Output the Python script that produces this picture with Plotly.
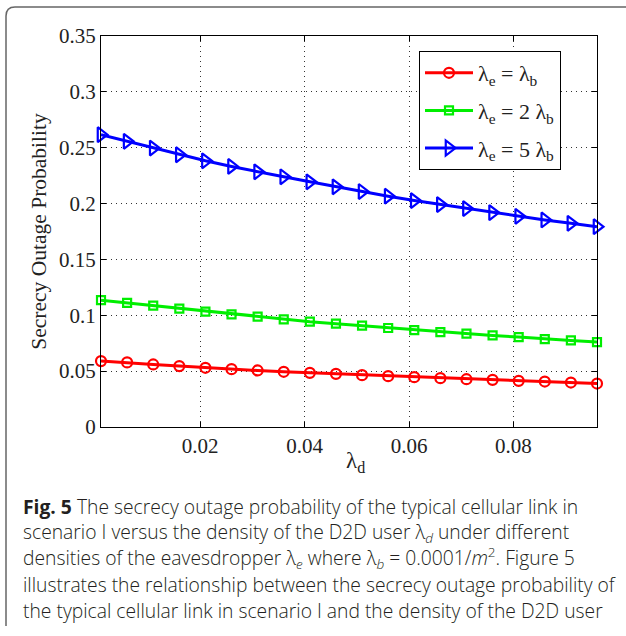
import plotly.graph_objects as go

# ---- data ----
lambda_d = [0.001, 0.006, 0.011, 0.016, 0.021, 0.026, 0.031, 0.036, 0.041, 0.046,
            0.051, 0.056, 0.061, 0.066, 0.071, 0.076, 0.081, 0.086, 0.091, 0.096]
sop_e1 = [0.0590, 0.0578, 0.0560, 0.0545, 0.0530, 0.0518, 0.0506, 0.0494, 0.0485, 0.0476,
          0.0464, 0.0455, 0.0446, 0.0437, 0.0428, 0.0422, 0.0413, 0.0407, 0.0398, 0.0389]
sop_e2 = [0.1135, 0.1111, 0.1087, 0.1060, 0.1033, 0.1009, 0.0988, 0.0964, 0.0943, 0.0925,
          0.0907, 0.0886, 0.0868, 0.0850, 0.0835, 0.0820, 0.0805, 0.0787, 0.0775, 0.0760]
sop_e5 = [0.2617, 0.2557, 0.2497, 0.2437, 0.2383, 0.2332, 0.2284, 0.2240, 0.2195, 0.2150,
          0.2108, 0.2066, 0.2027, 0.1991, 0.1955, 0.1919, 0.1886, 0.1853, 0.1823, 0.1793]
series_names = ["λ<sub>e</sub> = λ<sub>b</sub>", "λ<sub>e</sub> = 2 λ<sub>b</sub>",
                "λ<sub>e</sub> = 5 λ<sub>b</sub>"]
x_tickvals = [0.02, 0.04, 0.06, 0.08]
x_ticktext = ["0.02", "0.04", "0.06", "0.08"]
y_tickvals = [0, 0.05, 0.1, 0.15, 0.2, 0.25, 0.3, 0.35]
y_ticktext = ["0", "0.05", "0.1", "0.15", "0.2", "0.25", "0.3", "0.35"]
x_title = "λ<sub>d</sub>"
y_title = "Secrecy Outage Probability"
caption_lines = [
    "<b>Fig. 5</b> The secrecy outage probability of the typical cellular link in",
    "scenario I versus the density of the D2D user λ<sub><i>d</i></sub> under different",
    "densities of the eavesdropper λ<sub><i>e</i></sub> where λ<sub><i>b</i></sub> = 0.0001/<i>m</i><sup>2</sup>. Figure 5",
    "illustrates the relationship between the secrecy outage probability of",
    "the typical cellular link in scenario I and the density of the D2D user",
]

W, H = 626, 636
L, R, T, B = 101, 597, 36, 427  # plot area in pixels


def px(x):
    return (x - L) / (R - L)


def py(y):
    return (B - y) / (B - T)


serif = "Liberation Serif, Times New Roman, serif"
fig = go.Figure()
styles = [
    dict(color="#ff0000", symbol="circle-open", size=10),
    dict(color="#00ee00", symbol="square-open", size=8),
    dict(color="#0000ff", symbol="triangle-right-open", size=13),
]
for i, (vals, st) in enumerate(zip([sop_e1, sop_e2, sop_e5], styles)):
    fig.add_trace(go.Scatter(
        x=lambda_d, y=vals, mode="lines+markers", name=series_names[i],
        legendgroup=str(i),
        line=dict(color=st["color"], width=3),
        marker=dict(symbol=st["symbol"], size=st["size"], color=st["color"],
                    line=dict(color=st["color"], width=2.2)),
        cliponaxis=False,
    ))

axis_common = dict(
    showline=True, linecolor="black", linewidth=1.3, mirror="ticks",
    ticks="inside", ticklen=5, tickcolor="black", tickwidth=1,
    showgrid=True, gridcolor="#333333", griddash="1px,4px", gridwidth=1,
    zeroline=False, tickfont=dict(family=serif, size=21, color="#222222"),
)
fig.update_xaxes(range=[0.001, 0.096], tickvals=x_tickvals, ticktext=x_ticktext,
                 **axis_common)
fig.update_yaxes(range=[0, 0.35], tickvals=y_tickvals, ticktext=y_ticktext,
                 title=dict(text=y_title,
                            font=dict(family=serif, size=21.5, color="#222222"), standoff=6),
                 **axis_common)

# x-axis title placed as annotation to match position
fig.add_annotation(text=x_title, xref="paper", yref="paper", x=px(355), y=py(462),
                   xanchor="center", yanchor="middle", showarrow=False,
                   font=dict(family=serif, size=23, color="#222222"))

# frame
fig.add_shape(type="path", xref="paper", yref="paper",
              path=(f"M {px(6)},{py(626)} L {px(6)},{py(16)} "
                    f"Q {px(6)},{py(7)} {px(15)},{py(7)} L {px(640)},{py(7)}"),
              line=dict(color="#666666", width=1.5))

caption_y = [506, 532, 558, 584, 610]
for txt, yy in zip(caption_lines, caption_y):
    fig.add_annotation(text=txt, xref="paper", yref="paper", x=px(21), y=py(yy),
                       xanchor="left", yanchor="middle", showarrow=False,
                       font=dict(family="Open Sans, sans-serif", size=19.3, color="#231f20",
                                 weight=300))

fig.update_layout(
    width=W, height=H,
    margin=dict(l=L, r=W - R, t=T, b=H - B, pad=0),
    paper_bgcolor="white", plot_bgcolor="white",
    legend=dict(x=px(419), y=py(51), xanchor="left", yanchor="top",
                bordercolor="black", borderwidth=1, bgcolor="white",
                font=dict(family=serif, size=22, color="#222222"),
                tracegroupgap=6, itemwidth=48),
    showlegend=True,
)
fig.write_html("out.html", config={"displayModeBar": False},
               post_script="document.body.style.margin='0';")
